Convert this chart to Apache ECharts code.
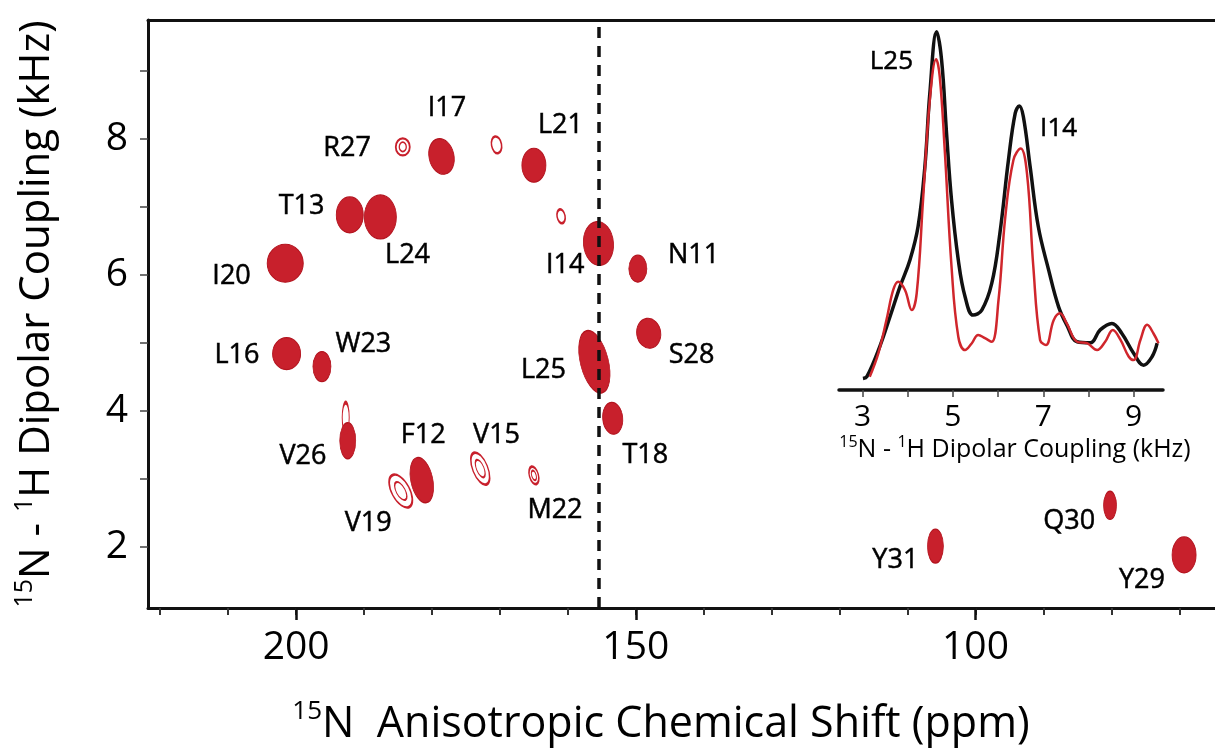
<!DOCTYPE html>
<html>
<head>
<meta charset="utf-8">
<title>15N anisotropic chemical shift vs 15N-1H dipolar coupling</title>
<script src="https://cdn.jsdelivr.net/npm/echarts@6/dist/echarts.min.js"></script>
<style>
html, body { margin: 0; padding: 0; background: #fff; }
#main { width: 1215px; height: 754px; }
</style>
</head>
<body>
<div id="main"></div>
<script>
// assigned peaks: residue, 15N shift (ppm), 15N-1H dipolar coupling (kHz)
var peakNames    = ['N11', 'F12', 'T13', 'I14', 'V15', 'L16', 'I17', 'T18', 'V19', 'I20', 'L21',
                    'M22', 'W23', 'L24', 'L25', 'V26', 'R27', 'S28', 'Y29', 'Q30', 'Y31'];
var peakShift    = [149.7, 181.5, 192.1, 155.5, 172.9, 201.4, 178.6, 153.4, 184.6, 201.6, 165.0,
                    165.0, 196.2, 187.6, 156.1, 192.4, 184.3, 148.1, 69.3, 80.2, 105.9];
var peakCoupling = [6.09, 2.98, 6.88, 6.46, 3.15, 4.84, 7.74, 3.89, 2.82, 6.17, 7.61,
                    3.05, 4.65, 6.85, 4.72, 3.56, 7.88, 5.14, 1.88, 2.61, 2.01];
// weak unassigned peaks (last one is the tail above V26)
var weakShift    = [170.5, 161.0, 192.7];
var weakCoupling = [7.91, 6.86, 3.9];

// where each residue label sits
var labelShift    = [141.5, 181.3, 199.2, 160.4, 170.5, 208.7, 177.8, 148.6, 189.4, 209.5, 161.1,
                     161.9, 190.1, 183.6, 163.6, 199.0, 192.5, 141.8, 75.5, 86.2, 111.8];
var labelCoupling = [6.29, 3.64, 7.0, 6.14, 3.64, 4.82, 8.45, 3.35, 2.34, 5.97, 8.20,
                     2.54, 4.97, 6.29, 4.60, 3.33, 7.86, 4.82, 1.50, 2.37, 1.80];

var slicePpm = 155.5; // dashed line

// inset: 1D slices along the dipolar dimension
var blackKHz = [3.01, 3.1, 3.38, 3.61, 3.83, 4.05, 4.23, 4.38, 4.49, 4.64, 4.75, 4.86, 4.97, 5.12, 5.27,
                5.45, 5.64, 5.86, 6.04, 6.23, 6.38, 6.47, 6.56, 6.71, 6.89, 7.12, 7.34, 7.52, 7.75,
                8.04, 8.26, 8.52, 8.74, 9.0, 9.22, 9.41, 9.52];
var blackInt = [3.2, 3.8, 12.0, 20.4, 28.7, 36.1, 45.4, 62, 82.4, 99.5, 91.7, 71.3, 52.8, 36.1, 25.9,
                20.8, 22.2, 29.6, 43.5, 63.9, 76.9, 78.9, 75.9, 62, 45.4, 33.3, 23.1, 18.1, 13.4,
                13.1, 16.7, 18.5, 15.7, 10.2, 6.9, 9.3, 13.0];
var redKHz = [3.16, 3.35, 3.53, 3.68, 3.79, 3.94, 4.09, 4.2, 4.34, 4.49, 4.63, 4.71, 4.82, 4.97, 5.12,
              5.27, 5.42, 5.56, 5.71, 5.86, 6.01, 6.16, 6.34, 6.5, 6.64, 6.78, 6.93, 7.06, 7.23, 7.37,
              7.52, 7.75, 7.97, 8.19, 8.37, 8.54, 8.71, 8.89, 9.0, 9.15, 9.3, 9.44, 9.55];
var redInt = [3.7, 10.2, 19.4, 27.8, 30.1, 27.8, 22.2, 26.9, 52.8, 80.6, 91.9, 87, 66.7, 34.3, 14.8,
              11.1, 13.0, 15.3, 14.4, 13.4, 25, 48.1, 63.9, 67.1, 60.2, 34.3, 13.9, 12.5, 19.4, 21.3,
              18.5, 13.4, 13.0, 11.1, 13.4, 16.7, 13.9, 9.3, 8.3, 13.9, 18.1, 15.7, 13.0];
var insetLabelNames = ['L25', 'I14'];
var insetLabelKHz   = [3.64, 7.34];
var insetLabelInt   = [91.2, 72.7];

// ticks
var shiftTicks     = [70, 80, 90, 100, 110, 120, 130, 140, 150, 160, 170, 180, 190, 200, 210, 220];
var shiftLabels    = [100, 150, 200];
var couplingTicks  = [2, 3, 4, 5, 6, 7, 8, 9];
var couplingLabels = [2, 4, 6, 8];
var insetTicks     = [3, 4, 5, 6, 7, 8, 9];
var insetLabels    = [3, 5, 7, 9];

// contour look of each peak: [width px, height px, tilt deg, open?]
var peakLook = {
    N11: [18, 27, 0, 0], F12: [22, 46, 12, 0], T13: [27, 36, 0, 0], I14: [30, 44, 5, 0],
    V15: [15, 34, 22, 1], L16: [28, 32, 0, 0], I17: [25, 36, 12, 0], T18: [20, 32, 5, 0],
    V19: [18, 36, 28, 1], I20: [36, 38, 0, 0], L21: [24, 34, 0, 0], M22: [9, 18, 15, 1],
    W23: [18, 30, 0, 0], L24: [32, 44, 0, 0], L25: [28, 64, 14, 0], V26: [16, 36, 0, 0],
    R27: [14, 17, 0, 1], S28: [24, 30, 8, 0], Y29: [24, 36, 0, 0], Q30: [13, 28, 0, 0],
    Y31: [16, 34, 0, 0]
};
var weakLook = [[10, 17, 10], [8, 14, 10], [7, 30, 0]];

var RED = '#c8202c';
var FONT = 'Open Sans';

var filled = [], open = [], inner = [], labels = [];
for (var i = 0; i < peakNames.length; i++) {
    var lk = peakLook[peakNames[i]];
    var item = {
        name: peakNames[i],
        value: [peakShift[i], peakCoupling[i]],
        symbolSize: [lk[0], lk[1]],
        symbolRotate: lk[2]
    };
    if (lk[3]) {
        open.push(item);
        inner.push({
            value: [peakShift[i], peakCoupling[i]],
            symbolSize: [lk[0] * 0.5, lk[1] * 0.55],
            symbolRotate: lk[2]
        });
    } else {
        filled.push(item);
    }
    labels.push({name: peakNames[i], value: [labelShift[i], labelCoupling[i]]});
}
for (var j = 0; j < weakShift.length; j++) {
    open.push({
        value: [weakShift[j], weakCoupling[j]],
        symbolSize: [weakLook[j][0], weakLook[j][1]],
        symbolRotate: weakLook[j][2]
    });
}

var blackLine = [], redLine = [], insetLabelData = [];
for (var k = 0; k < blackKHz.length; k++) blackLine.push([blackKHz[k], blackInt[k]]);
for (var m = 0; m < redKHz.length; m++) redLine.push([redKHz[m], redInt[m]]);
for (var n = 0; n < insetLabelNames.length; n++) {
    insetLabelData.push({name: insetLabelNames[n], value: [insetLabelKHz[n], insetLabelInt[n]]});
}

var supRichX = {
    sup: {fontFamily: FONT, fontSize: 26, color: '#000', verticalAlign: 'top', lineHeight: 32},
    t: {fontFamily: FONT, fontSize: 43, color: '#000', lineHeight: 52}
};
var supRichY = {
    sup: {fontFamily: FONT, fontSize: 25, color: '#000', verticalAlign: 'top', lineHeight: 31},
    t: {fontFamily: FONT, fontSize: 42, color: '#000', lineHeight: 50}
};
var supRichSmall = {
    sup: {fontFamily: FONT, fontSize: 16, color: '#000', verticalAlign: 'top', lineHeight: 20},
    t: {fontFamily: FONT, fontSize: 25, color: '#000', lineHeight: 32}
};

var myChart = echarts.init(document.getElementById('main'));
var option = {
    animation: false,
    backgroundColor: '#fff',
    grid: [
        {left: 148, top: 20, right: 0, bottom: 146},
        {left: 839, top: 30, right: 52, bottom: 364}
    ],
    xAxis: [
        {
            gridIndex: 0, type: 'value', inverse: true, min: 64.75, max: 221.8,
            axisLine: {lineStyle: {color: '#111', width: 3}},
            axisTick: {show: true, customValues: shiftTicks, length: 7, lineStyle: {color: '#333', width: 2}},
            axisLabel: {customValues: shiftLabels, margin: 20, fontSize: 39, fontFamily: FONT, color: '#000'},
            splitLine: {show: false}
        },
        {
            // longer ticks at the labelled values
            gridIndex: 0, type: 'value', inverse: true, min: 64.75, max: 221.8, position: 'bottom',
            axisLine: {show: false},
            axisTick: {show: true, customValues: shiftLabels, length: 12, lineStyle: {color: '#111', width: 2.5}},
            axisLabel: {show: false},
            splitLine: {show: false}
        },
        {
            // top frame
            gridIndex: 0, type: 'value', inverse: true, min: 64.75, max: 221.8, position: 'top',
            axisLine: {lineStyle: {color: '#111', width: 3}},
            axisTick: {show: false}, axisLabel: {show: false}, splitLine: {show: false}
        },
        {
            gridIndex: 1, type: 'value', min: 2.48, max: 9.65,
            axisLine: {lineStyle: {color: '#111', width: 3.5}},
            axisTick: {show: true, customValues: insetTicks, length: 7, lineStyle: {color: '#444', width: 1.5}},
            axisLabel: {customValues: insetLabels, margin: 12, fontSize: 30, fontFamily: FONT, color: '#000'},
            splitLine: {show: false}
        }
    ],
    yAxis: [
        {
            gridIndex: 0, type: 'value', min: 1.1, max: 9.746,
            name: '{sup|15}{t|N - }{sup|1}{t|H Dipolar Coupling (kHz)}',
            nameLocation: 'middle', nameRotate: 90, nameGap: 86,
            nameTextStyle: {rich: supRichY},
            axisLine: {lineStyle: {color: '#111', width: 3}},
            axisTick: {show: true, customValues: couplingTicks, length: 8, lineStyle: {color: '#444', width: 1.5}},
            axisLabel: {customValues: couplingLabels, margin: 20, fontSize: 39, fontFamily: FONT, color: '#000'},
            splitLine: {show: false}
        },
        {
            gridIndex: 1, type: 'value', min: 0, max: 100, show: false
        }
    ],
    graphic: [
        {
            type: 'text', x: 661, y: 725,
            style: {
                text: '{sup|15}{t|N  Anisotropic Chemical Shift (ppm)}',
                rich: supRichX, align: 'center', verticalAlign: 'middle',
                textAlign: 'center', textVerticalAlign: 'middle'
            }
        },
        {
            type: 'text', x: 1015, y: 450,
            style: {
                text: '{sup|15}{t|N - }{sup|1}{t|H Dipolar Coupling (kHz)}',
                rich: supRichSmall, align: 'center', verticalAlign: 'middle',
                textAlign: 'center', textVerticalAlign: 'middle'
            }
        }
    ],
    series: [
        {
            name: 'peaks', type: 'scatter', xAxisIndex: 0, yAxisIndex: 0,
            symbol: 'circle', data: filled,
            itemStyle: {color: RED, borderColor: '#b3141f', borderWidth: 1, opacity: 1}
        },
        {
            name: 'weak peaks', type: 'scatter', xAxisIndex: 0, yAxisIndex: 0,
            symbol: 'circle', data: open,
            itemStyle: {color: 'rgba(255,255,255,0)', borderColor: RED, borderWidth: 2, opacity: 1}
        },
        {
            name: 'inner contours', type: 'scatter', xAxisIndex: 0, yAxisIndex: 0,
            symbol: 'circle', data: inner,
            itemStyle: {color: 'rgba(255,255,255,0)', borderColor: RED, borderWidth: 1.5, opacity: 1}
        },
        {
            name: 'labels', type: 'scatter', xAxisIndex: 0, yAxisIndex: 0,
            symbolSize: 1, data: labels, z: 4,
            itemStyle: {color: 'rgba(0,0,0,0)'},
            label: {show: true, position: 'inside', formatter: '{b}', fontSize: 27, fontFamily: FONT,
                    color: '#000', opacity: 1, textBorderColor: '#000', textBorderWidth: 0.5},
            markLine: {
                silent: true, symbol: 'none', z: 6,
                label: {show: false},
                lineStyle: {color: '#111', width: 3.5, type: [11, 8]},
                data: [{xAxis: slicePpm}]
            }
        },
        {
            name: 'slice black', type: 'line', xAxisIndex: 3, yAxisIndex: 1,
            data: blackLine, smooth: 0.4, showSymbol: false, z: 3,
            lineStyle: {color: '#111', width: 3.5}
        },
        {
            name: 'slice red', type: 'line', xAxisIndex: 3, yAxisIndex: 1,
            data: redLine, smooth: 0.4, showSymbol: false, z: 4,
            lineStyle: {color: '#d0262c', width: 2.5}
        },
        {
            name: 'inset labels', type: 'scatter', xAxisIndex: 3, yAxisIndex: 1,
            symbolSize: 1, data: insetLabelData,
            itemStyle: {color: 'rgba(0,0,0,0)'},
            label: {show: true, position: 'inside', formatter: '{b}', fontSize: 26, fontFamily: FONT,
                    color: '#000', opacity: 1, textBorderColor: '#000', textBorderWidth: 0.5}
        }
    ]
};
myChart.setOption(option);
</script>
</body>
</html>
